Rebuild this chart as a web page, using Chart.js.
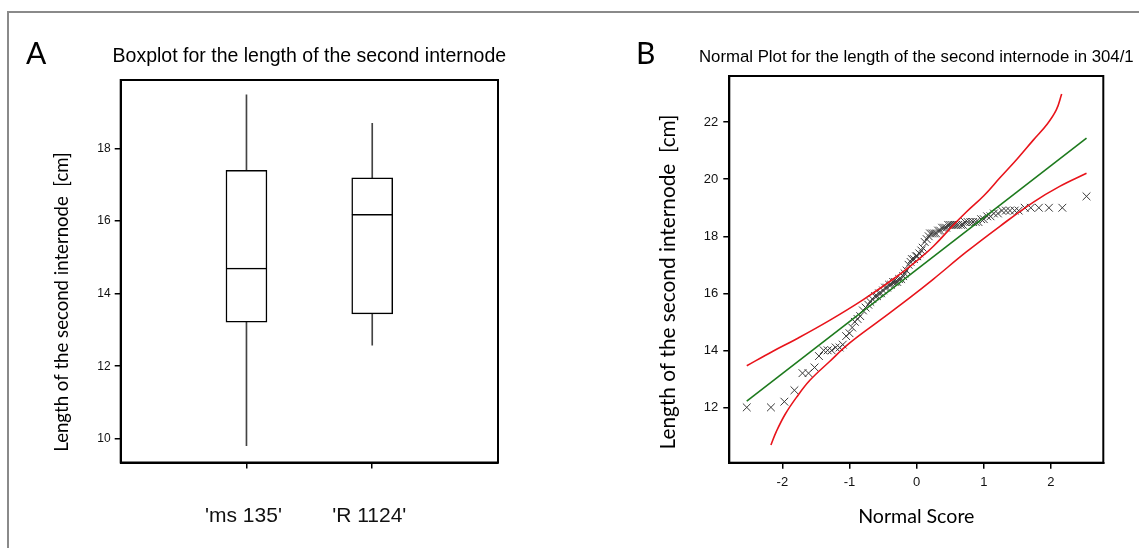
<!DOCTYPE html>
<html>
<head>
<meta charset="utf-8">
<script src="https://cdn.jsdelivr.net/npm/chart.js@4.4.1/dist/chart.umd.min.js"></script>
<style>
  html, body { margin: 0; padding: 0; background: #fff; }
  #page { position: relative; width: 1139px; height: 548px; overflow: hidden; }
  #frame { position: absolute; left: 7px; top: 11px; width: 1200px; height: 600px;
    border-top: 2px solid #8a8a8a; border-left: 2px solid #8a8a8a; }
  canvas { position: absolute; top: 0; }
  #box-chart { left: 0; }
  #normal-chart { left: 580px; }
</style>
</head>
<body>
<div id="page">
  <div id="frame"></div>
  <canvas id="box-chart" width="580" height="548"></canvas>
  <canvas id="normal-chart" width="559" height="548"></canvas>
</div>
<script>
// ---------- data : panel A (boxplot) ----------
const categories = ["'ms 135'", "'R 1124'"];
const categoryPos = [1, 2];
const whiskerLow = [9.81, 12.58];
const quartile1 = [13.21, 13.44];
const medians = [14.70, 16.18];
const quartile3 = [17.39, 17.19];
const whiskerHigh = [19.47, 18.69];
const boxTicksY = [10, 12, 14, 16, 18];

// ---------- data : panel B (normal plot) ----------
const normalScores = [
  -2.53, -2.17, -1.97, -1.82, -1.70, -1.61, -1.52, -1.455, -1.385, -1.325,
  -1.266, -1.206, -1.147, -1.10, -1.05, -1.00, -0.96, -0.92, -0.88, -0.84,
  -0.80, -0.76, -0.72, -0.69, -0.66, -0.62, -0.59, -0.56, -0.53, -0.50,
  -0.47, -0.44, -0.41, -0.38, -0.35, -0.32, -0.29, -0.26, -0.23, -0.20,
  -0.18, -0.15, -0.12, -0.09, -0.07, -0.04, -0.01, 0.01, 0.04, 0.07,
  0.09, 0.12, 0.15, 0.18, 0.20, 0.23, 0.26, 0.29, 0.32, 0.35,
  0.38, 0.41, 0.44, 0.47, 0.50, 0.53, 0.56, 0.59, 0.62, 0.66,
  0.69, 0.72, 0.76, 0.80, 0.84, 0.88, 0.92, 0.96, 1.00, 1.05,
  1.10, 1.15, 1.21, 1.27, 1.33, 1.39, 1.46, 1.52, 1.61, 1.70,
  1.82, 1.97, 2.17, 2.53
];
const internodeLength = [
  12.0, 12.0, 12.2, 12.6, 13.2, 13.2, 13.4, 13.8, 14.0, 14.0,
  14.0, 14.1, 14.1, 14.2, 14.5, 14.6, 14.8, 15.0, 15.1, 15.2,
  15.4, 15.5, 15.6, 15.7, 15.8, 15.9, 15.9, 16.0, 16.0, 16.1,
  16.2, 16.2, 16.3, 16.3, 16.4, 16.4, 16.4, 16.5, 16.5, 16.6,
  16.7, 16.8, 17.0, 17.1, 17.2, 17.2, 17.3, 17.3, 17.4, 17.5,
  17.6, 17.8, 17.9, 18.0, 18.1, 18.1, 18.1, 18.1, 18.2, 18.2,
  18.3, 18.3, 18.3, 18.4, 18.4, 18.4, 18.4, 18.4, 18.4, 18.4,
  18.4, 18.5, 18.5, 18.5, 18.5, 18.5, 18.5, 18.6, 18.6, 18.7,
  18.7, 18.8, 18.8, 18.9, 18.9, 18.9, 18.9, 18.9, 19.0, 19.0,
  19.0, 19.0, 19.0, 19.4
];
const fitScore = [-2.53, 2.53];
const fitLength = [12.22, 21.44];
const upperScore = [-2.53, -2.14, -1.79, -1.29, -0.80, -0.30, 0.05, 0.25, 0.55, 0.74, 1.00, 1.24, 1.50, 1.74, 1.94, 2.08, 2.16];
const upperLength = [13.46, 13.97, 14.40, 15.06, 15.77, 16.58, 17.23, 17.65, 18.40, 18.85, 19.42, 20.05, 20.72, 21.38, 21.92, 22.43, 22.99];
const lowerScore = [-2.17, -2.09, -1.96, -1.79, -1.59, -1.30, -1.00, -0.55, -0.10, 0.25, 0.74, 1.24, 1.74, 2.13, 2.53];
const lowerLength = [10.68, 11.15, 11.75, 12.35, 12.95, 13.60, 14.25, 15.05, 15.85, 16.50, 17.45, 18.35, 19.20, 19.75, 20.21];
const normalTicksX = [-2, -1, 0, 1, 2];
const normalTicksY = [12, 14, 16, 18, 20, 22];

// ---------- helpers ----------
const ARIAL = 'Liberation Sans, Arial, sans-serif';
const HUMAN = 'Lato, Open Sans, sans-serif';
const zip = (xs, ys) => xs.map((x, i) => ({ x, y: ys[i] }));

// frame round the plot area + panel letter, titles
let panelText = {
  id: 'panelText',
  afterDraw(chart, args, o) {
    let { ctx, chartArea: a } = chart;
    ctx.save();
    ctx.strokeStyle = '#000';
    ctx.lineWidth = 2;
    ctx.strokeRect(a.left, a.top, a.right - a.left, a.bottom - a.top);

    ctx.fillStyle = '#000';
    ctx.textBaseline = 'alphabetic';
    ctx.textAlign = 'left';
    ctx.font = '30px ' + HUMAN;
    ctx.fillText(o.letter, o.letterX, 64);

    ctx.textAlign = 'center';
    ctx.textBaseline = 'middle';
    ctx.font = o.titleFont;
    ctx.fillText(o.title, (a.left + a.right) / 2, o.titleY);

    if (o.xTitle) {
      ctx.font = '19.6px ' + HUMAN;
      ctx.fillText(o.xTitle, (a.left + a.right) / 2, o.xTitleY);
    }

    ctx.translate(o.yTitleX, o.yTitleY);
    ctx.rotate(-Math.PI / 2);
    ctx.font = o.yTitleFont;
    ctx.fillText(o.yTitle, 0, 0);
    ctx.restore();
  }
};

let fixTicks = (values) => (scale) => { scale.ticks = values.map(value => ({ value })); };

let axisBase = (size) => ({
  ticks: { color: '#111', font: { family: ARIAL, size }, autoSkip: false, maxRotation: 0 },
  grid: { drawOnChartArea: false, tickLength: 6, color: '#000', lineWidth: 1.5, offset: false },
  border: { color: '#000', width: 2 }
});

// ---------- panel A ----------
let boxA = document.getElementById('box-chart').getContext('2d');
let xA = axisBase(21), yA = axisBase(12);

new Chart(boxA, {
  type: 'bar',
  data: {
    datasets: [
      {
        data: categoryPos.map((x, i) => ({ x, y: [quartile1[i], medians[i]] })),
        backgroundColor: '#fff', borderColor: '#000', borderWidth: 1.5, borderSkipped: false,
        barThickness: 41, grouped: false, order: 1
      },
      {
        data: categoryPos.map((x, i) => ({ x, y: [medians[i], quartile3[i]] })),
        backgroundColor: '#fff', borderColor: '#000', borderSkipped: false,
        borderWidth: { top: 1.5, left: 1.5, right: 1.5, bottom: 0 },
        barThickness: 41, grouped: false, order: 1
      },
      {
        data: categoryPos.map((x, i) => ({ x, y: [whiskerLow[i], whiskerHigh[i]] })),
        backgroundColor: '#444', borderWidth: 0,
        barThickness: 1, grouped: false, order: 2
      }
    ]
  },
  options: {
    responsive: false, animation: false, devicePixelRatio: 1,
    layout: { padding: { left: 0, top: 80, right: 82, bottom: 0 } },
    plugins: {
      legend: { display: false }, tooltip: { enabled: false },
      panelText: {
        letter: 'A', letterX: 26,
        title: 'Boxplot for the length of the second internode', titleFont: '19.5px ' + ARIAL, titleY: 57,
        yTitle: 'Length of the second internode  [cm]', yTitleFont: '18.6px ' + HUMAN, yTitleX: 62, yTitleY: 302
      }
    },
    scales: {
      x: {
        ...xA, type: 'linear', min: 0, max: 3, offset: false,
        afterBuildTicks: fixTicks(categoryPos),
        ticks: { ...xA.ticks, padding: 35, labelOffset: -3, callback: (v) => categories[categoryPos.indexOf(v)] },
        afterFit: (s) => { s.height = 85.5; }
      },
      y: {
        ...yA, min: 9.35, max: 19.88,
        afterBuildTicks: fixTicks(boxTicksY),
        ticks: { ...yA.ticks, padding: 4 },
        afterFit: (s) => { s.width = 120.7; }
      }
    }
  },
  plugins: [panelText]
});

// ---------- panel B ----------
let normB = document.getElementById('normal-chart').getContext('2d');
let xB = axisBase(13), yB = axisBase(13);

new Chart(normB, {
  type: 'scatter',
  data: {
    datasets: [
      {
        data: zip(upperScore, upperLength), showLine: true, tension: 0.4,
        borderColor: '#e8141b', borderWidth: 1.6, pointRadius: 0
      },
      {
        data: zip(lowerScore, lowerLength), showLine: true, tension: 0.4,
        borderColor: '#e8141b', borderWidth: 1.6, pointRadius: 0
      },
      {
        data: zip(fitScore, fitLength), showLine: true,
        borderColor: '#1d7a1d', borderWidth: 1.6, pointRadius: 0
      },
      {
        data: zip(normalScores, internodeLength),
        pointStyle: 'crossRot', pointRadius: 5.5, borderColor: '#3a3a3a', borderWidth: 1,
        backgroundColor: 'transparent'
      }
    ]
  },
  options: {
    responsive: false, animation: false, devicePixelRatio: 1,
    layout: { padding: { left: 0, top: 76, right: 35.7, bottom: 0 } },
    plugins: {
      legend: { display: false }, tooltip: { enabled: false },
      panelText: {
        letter: 'B', letterX: 56,
        title: 'Normal Plot for the length of the second internode in 304/1', titleFont: '16.8px ' + ARIAL, titleY: 57,
        xTitle: 'Normal Score', xTitleY: 517,
        yTitle: 'Length of the second internode  [cm]', yTitleFont: '20.8px ' + HUMAN, yTitleX: 88, yTitleY: 282
      }
    },
    scales: {
      x: {
        ...xB, type: 'linear', min: -2.79, max: 2.78,
        afterBuildTicks: fixTicks(normalTicksX),
        ticks: { ...xB.ticks, padding: 6 },
        afterFit: (s) => { s.height = 85.3; }
      },
      y: {
        ...yB, min: 10.06, max: 23.62,
        afterBuildTicks: fixTicks(normalTicksY),
        ticks: { ...yB.ticks, padding: 5 },
        afterFit: (s) => { s.width = 149.3; }
      }
    }
  },
  plugins: [panelText]
});
</script>
</body>
</html>
